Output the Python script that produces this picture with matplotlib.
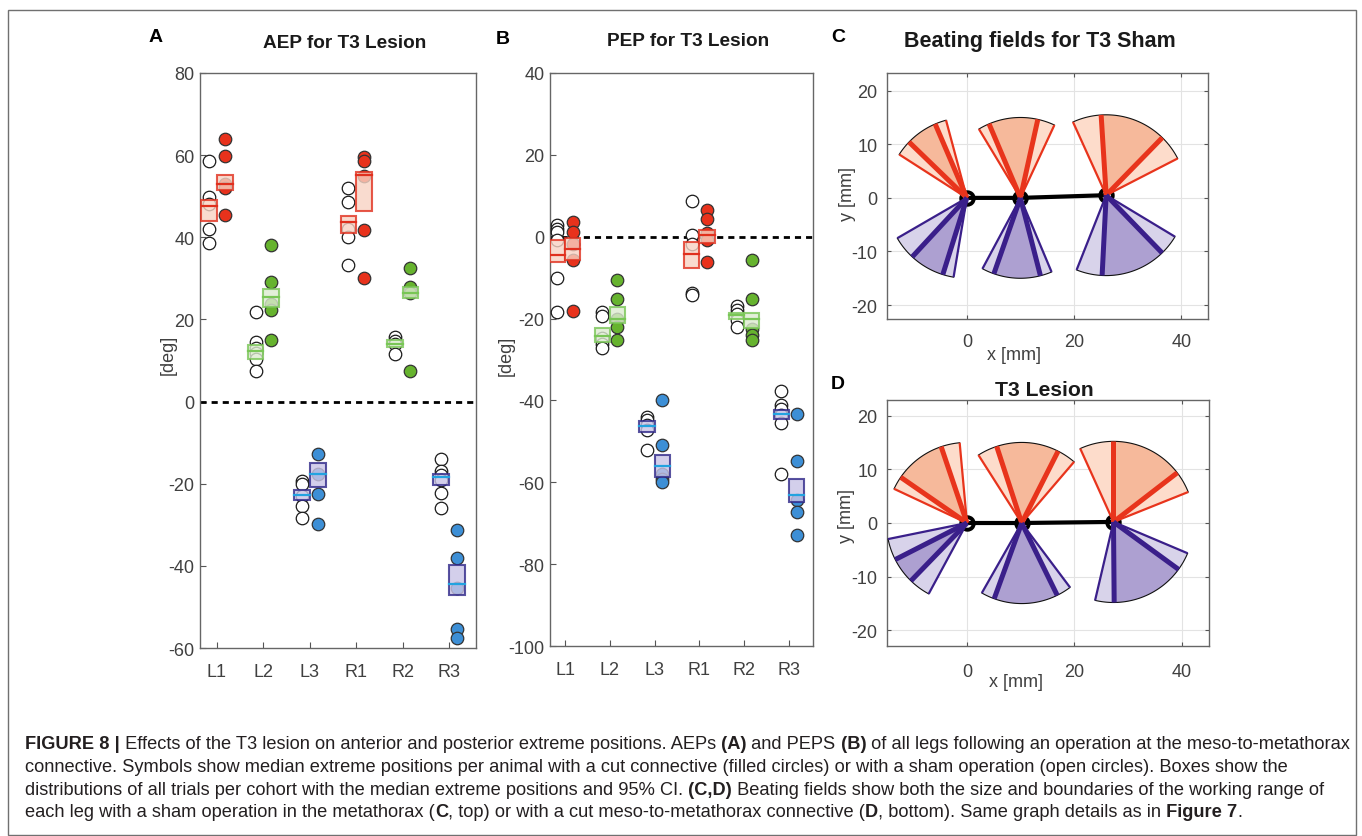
import matplotlib
matplotlib.use('Agg')
import matplotlib.pyplot as plt
import numpy as np
from matplotlib.patches import Rectangle, Wedge

W, H = 1362, 837
plt.rcParams['font.family'] = ['Liberation Sans', 'DejaVu Sans']
plt.rcParams['axes.unicode_minus'] = False

legs = ['L1', 'L2', 'L3', 'R1', 'R2', 'R3']

# panel A: AEP, median per animal (sham = open, lesion = filled)
aep_sham = [
    [58.6, 49.7, 48.0, 42.0, 38.5],
    [21.9, 14.4, 13.1, 11.9, 10.3, 7.5],
    [-19.3, -20.1, -23.0, -25.4, -28.4],
    [52.1, 48.5, 42.0, 40.1, 33.3],
    [15.7, 14.8, 14.1, 11.7],
    [-14.0, -16.9, -17.9, -19.2, -22.2, -25.8],
]
aep_lesion = [
    [64.0, 59.7, 52.9, 52.1, 45.4],
    [38.1, 29.0, 23.7, 22.3, 14.9],
    [-12.7, -17.7, -22.6, -29.7],
    [59.5, 58.5, 55.0, 41.7, 30.0],
    [32.6, 27.9, 26.5, 7.5],
    [-31.2, -38.0, -45.5, -55.4, -57.6],
]
# (ci low, median, ci high)
aep_sham_box = [(44.0, 47.6, 49.0), (10.3, 12.3, 13.8), (-24.0, -22.7, -21.6),
                (41.1, 43.7, 45.2), (13.3, 14.1, 14.9), (-20.4, -18.3, -17.7)]
aep_lesion_box = [(51.4, 52.9, 55.2), (23.0, 25.5, 27.3), (-20.7, -17.7, -15.0),
                  (46.3, 55.2, 55.9), (25.3, 26.5, 27.9), (-47.2, -44.5, -39.8)]

# panel B: PEP
pep_sham = [
    [2.9, 2.0, 1.2, -0.8, -10.2, -18.5],
    [-18.3, -19.4, -24.8, -26.1, -27.3],
    [-44.0, -44.8, -46.0, -47.3, -52.2],
    [8.8, 0.4, -1.8, -13.7, -14.3],
    [-16.9, -17.9, -19.0, -20.4, -22.0],
    [-37.7, -41.1, -42.2, -43.6, -45.5, -58.0],
]
pep_lesion = [
    [3.7, 1.2, -1.8, -5.7, -18.1],
    [-10.6, -15.3, -20.0, -22.0, -25.3],
    [-39.9, -50.9, -58.0, -59.1, -59.9],
    [6.5, 4.3, 0.8, -0.8, -6.1],
    [-5.7, -15.3, -22.6, -24.0, -25.3],
    [-43.4, -54.8, -64.4, -67.2, -72.8],
]
pep_sham_box = [(-6.1, -4.5, -0.8), (-25.7, -24.3, -22.4), (-47.7, -46.3, -45.0),
                (-7.6, -4.3, -1.2), (-20.0, -19.2, -18.6), (-44.6, -43.4, -42.4)]
pep_lesion_box = [(-5.7, -3.1, -0.4), (-21.2, -20.0, -17.1), (-58.7, -56.0, -53.4),
                  (-1.5, 0.4, 1.6), (-22.4, -20.2, -18.6), (-64.9, -63.0, -59.3)]

# panels C/D: beating fields, angles in deg (outer = light wedge, inner = thick lines)
field_radius = 15
sham_pivot_x = [0, 10, 26]
sham_pivot_y = [0, 0, 0.5]
sham_aep_outer = [(105, 147.3), (65, 121.1), (27.2, 114.4)]
sham_aep_inner = [(113.2, 136), (77.5, 113), (45.7, 93.6)]
sham_pep_outer = [(-149.9, -99.5), (-118.2, -67.2), (-111.6, -31.1)]
sham_pep_inner = [(-132.8, -107.4), (-109.3, -75.6), (-92.9, -45.9)]
lesion_pivot_x = [0, 10.2, 27.3]
lesion_pivot_y = [0, 0, 0.2]
lesion_aep_outer = [(95.2, 154.9), (49.4, 122.5), (21.8, 114.4)]
lesion_aep_inner = [(108.7, 145.4), (63.1, 108.1), (37.6, 90)]
lesion_pep_outer = [(-168.5, -118.4), (-119.7, -53.1), (-103.2, -22.9)]
lesion_pep_inner = [(-153, -134.1), (-110, -63.8), (-89.5, -36.1)]

# colours per leg pair
fill_cols = {'red': '#e8321c', 'green': '#66b32e', 'blue': '#3d8fd6'}
box_face = {'red': '#f8d3c4', 'green': '#dcebd0', 'blue': '#c9c4e6'}
box_edge = {'red': '#e0301e', 'green': '#79c656', 'blue': '#2f2889'}
box_med = {'red': '#e0301e', 'green': '#79c656', 'blue': '#22a3e0'}
leg_col = ['red', 'green', 'blue', 'red', 'green', 'blue']

GRAY = '#404040'
fig = plt.figure(figsize=(W / 100, H / 100), dpi=100)


def px_axes(l, t, r, b):
    return fig.add_axes([l / W, 1 - b / H, (r - l) / W, (b - t) / H])


def ftext(x, y, s, **kw):
    return fig.text(x / W, 1 - y / H, s, **kw)


def ep_panel(ax, sham, lesion, sham_box, lesion_box, ylim, yticks, xlim):
    off, bw = 0.168, 0.34
    for i in range(6):
        c = leg_col[i]
        x = i + 1
        ax.plot([x - off] * len(sham[i]), sham[i], 'o', ms=9, mfc='white',
                mec='#1a1a1a', mew=0.9, zorder=3)
        ax.plot([x + off] * len(lesion[i]), lesion[i], 'o', ms=9, mfc=fill_cols[c],
                mec='#333333', mew=0.9, zorder=3)
        for xc, (lo, med, hi) in ((x - off, sham_box[i]), (x + off, lesion_box[i])):
            ax.add_patch(Rectangle((xc - bw / 2, lo), bw, hi - lo, fc=box_face[c],
                                   ec=box_edge[c], lw=1.5, alpha=0.8, zorder=4))
            ax.plot([xc - bw / 2, xc + bw / 2], [med, med], color=box_med[c],
                    lw=1.6, zorder=5)
    ax.axhline(0, color='k', lw=2.0, ls=(0, (2.2, 1.8)), zorder=2)
    ax.set_xlim(*xlim)
    ax.set_ylim(*ylim)
    ax.set_yticks(yticks)
    ax.set_xticks(range(1, 7))
    ax.set_xticklabels(legs)
    ax.tick_params(direction='in', length=4, color='#555555', labelcolor=GRAY,
                   labelsize=13)
    ax.tick_params(axis='x', pad=11)
    ax.tick_params(axis='y', pad=4)
    for s in ax.spines.values():
        s.set_color('#666666')
        s.set_linewidth(1.0)


axA = px_axes(200, 74, 476, 649)
ep_panel(axA, aep_sham, aep_lesion, aep_sham_box, aep_lesion_box,
         (-60, 80), range(-60, 81, 20), (0.634, 6.58))
axB = px_axes(550, 74, 813, 647)
ep_panel(axB, pep_sham, pep_lesion, pep_sham_box, pep_lesion_box,
         (-100, 40), range(-100, 41, 20), (0.665, 6.536))

ftext(168, 355, '[deg]', rotation=90, ha='center', va='center', fontsize=13, color=GRAY)
ftext(506, 356, '[deg]', rotation=90, ha='center', va='center', fontsize=13, color=GRAY)


def field_panel(ax, px_, py_, aep_o, aep_i, pep_o, pep_i, xlim, ylim):
    R = field_radius
    ax.plot(px_, py_, color='k', lw=3, zorder=1)
    ax.plot(px_, py_, 'o', ms=9, mfc='none', mec='k', mew=2.8, zorder=1)
    sets = [(aep_o, aep_i, '#fddccb', '#f6b99b', '#e8341c'),
            (pep_o, pep_i, '#d8d3ea', '#ada0d1', '#3a1f8a')]
    for outer_l, inner_l, light, dark, line in sets:
        for cx, cy, outer, inner in zip(px_, py_, outer_l, inner_l):
            ax.add_patch(Wedge((cx, cy), R, outer[0], outer[1], fc=light, ec='none', zorder=2))
            ax.add_patch(Wedge((cx, cy), R, inner[0], inner[1], fc=dark, ec='none', zorder=3))
            th = np.radians(np.linspace(outer[0], outer[1], 120))
            ax.plot(cx + R * np.cos(th), cy + R * np.sin(th), color='#111111', lw=0.8, zorder=4)
            for a in outer:
                t = np.radians(a)
                ax.plot([cx, cx + R * np.cos(t)], [cy, cy + R * np.sin(t)], color=line,
                        lw=1.6, zorder=4, solid_capstyle='butt')
            for a in inner:
                t = np.radians(a)
                ax.plot([cx, cx + R * np.cos(t)], [cy, cy + R * np.sin(t)], color=line,
                        lw=3.6, zorder=5, solid_capstyle='butt')
    ax.set_xlim(*xlim)
    ax.set_ylim(*ylim)
    ax.set_xticks([0, 20, 40])
    ax.set_yticks([-20, -10, 0, 10, 20])
    ax.grid(True, color='#e3e3e3', lw=0.8)
    ax.set_axisbelow(True)
    ax.tick_params(direction='in', length=3, color='#555555', labelcolor=GRAY,
                   labelsize=13, top=True, right=True)
    ax.tick_params(axis='y', pad=7)
    for s in ax.spines.values():
        s.set_color('#666666')
        s.set_linewidth(1.0)


axC = px_axes(887, 74, 1208, 320)
field_panel(axC, sham_pivot_x, sham_pivot_y, sham_aep_outer, sham_aep_inner,
            sham_pep_outer, sham_pep_inner, (-14.9, 45.0), (-22.6, 23.3))
axC.tick_params(axis='x', pad=10)
axD = px_axes(887, 401, 1209, 647)
field_panel(axD, lesion_pivot_x, lesion_pivot_y, lesion_aep_outer, lesion_aep_inner,
            lesion_pep_outer, lesion_pep_inner, (-14.9, 45.1), (-22.9, 22.9))
axD.tick_params(axis='x', pad=12)

ftext(848, 194, 'y [mm]', rotation=90, ha='center', va='center', fontsize=13, color=GRAY)
ftext(847, 516, 'y [mm]', rotation=90, ha='center', va='center', fontsize=13, color=GRAY)
ftext(1014, 355, 'x [mm]', ha='center', va='center', fontsize=13, color=GRAY)
ftext(1016, 683, 'x [mm]', ha='center', va='center', fontsize=13, color=GRAY)

# titles and panel letters
ftext(345, 43, 'AEP for T3 Lesion', ha='center', va='center', fontsize=13.7,
      fontweight='bold', color='#1a1a1a')
ftext(688, 42, 'PEP for T3 Lesion', ha='center', va='center', fontsize=13.7,
      fontweight='bold', color='#1a1a1a')
ftext(1040, 41, 'Beating fields for T3 Sham', ha='center', va='center', fontsize=15.5,
      fontweight='bold', color='#1a1a1a')
ftext(1044, 391, 'T3 Lesion', ha='center', va='center', fontsize=15.2,
      fontweight='bold', color='#1a1a1a')
for lx, ly, lt in [(156, 37, 'A'), (503, 40, 'B'), (838, 38, 'C'), (838, 385, 'D')]:
    ftext(lx, ly, lt, ha='center', va='center', fontsize=14, fontweight='bold', color='k')

# caption
cap_lines = [
    [('FIGURE 8 |', True), (' Effects of the T3 lesion on anterior and posterior extreme positions. AEPs', False),
     (' (A)', True), (' and PEPS', False), (' (B)', True),
     (' of all legs following an operation at the meso-to-metathorax', False)],
    [('connective. Symbols show median extreme positions per animal with a cut connective '
      '(filled circles) or with a sham operation (open circles). Boxes show the', False)],
    [('distributions of all trials per cohort with the median extreme positions and 95% CI.', False),
     (' (C,D)', True), (' Beating fields show both the size and boundaries of the working range of', False)],
    [('each leg with a sham operation in the metathorax (', False), ('C', True),
     (', top) or with a cut meso-to-metathorax connective (', False), ('D', True),
     (', bottom). Same graph details as in', False), (' Figure 7', True), ('.', False)],
]
cap_y = [745, 768, 790.5, 813]
renderer = fig.canvas.get_renderer()


def draw_caption(size):
    arts = []
    widths = []
    for yy, parts in zip(cap_y, cap_lines):
        x = 25
        for txt, bold in parts:
            t = ftext(x, yy, txt, ha='left', va='center', fontsize=size,
                      fontweight='bold' if bold else 'normal', color='#231f20')
            arts.append(t)
            x += t.get_window_extent(renderer).width
        widths.append(x - 25)
    return arts, widths


arts, widths = draw_caption(11.0)
scale = 1322 / widths[0]
for a in arts:
    a.remove()
draw_caption(11.0 * scale)

fig.patches.append(Rectangle((8 / W, 1 - 836 / H), (1356 - 8) / W, (836 - 11) / H,
                             transform=fig.transFigure, fill=False, ec='#707070', lw=1.0))

fig.savefig('out.png', dpi=100)
